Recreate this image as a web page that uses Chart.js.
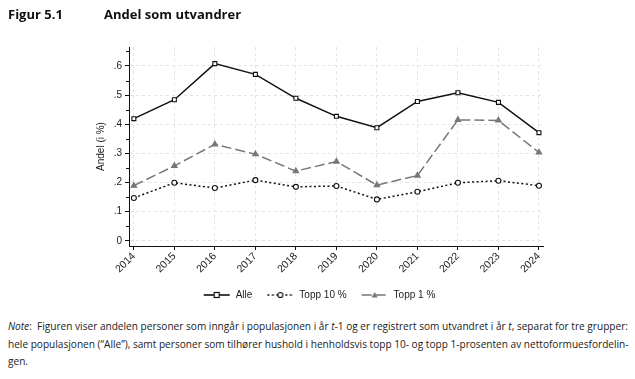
<!DOCTYPE html>
<html><head><meta charset="utf-8">
<script src="https://cdn.jsdelivr.net/npm/chart.js@4"></script>
<style>
html,body{margin:0;padding:0;background:#fff;width:635px;height:379px;overflow:hidden;}
#wrap{position:relative;width:635px;height:379px;}
#c{position:absolute;left:0;top:0;}
.t{position:absolute;top:5px;font-family:"Open Sans",sans-serif;font-weight:bold;font-size:13px;color:#111;}
#note{position:absolute;left:8px;top:318px;width:630px;white-space:nowrap;font-family:"Open Sans",sans-serif;font-size:10.1px;line-height:17.5px;color:#222;}
</style></head><body>
<div id="wrap">
<canvas id="c" width="635" height="310"></canvas>
<div class="t" style="left:8px">Figur 5.1</div>
<div class="t" style="left:104px">Andel som utvandrer</div>
<div id="note"><i>Note</i>:&nbsp; Figuren viser andelen personer som inngår i populasjonen i år <i>t</i>-1 og er registrert som utvandret i år <i>t</i>, separat for tre grupper:<br>hele populasjonen (“Alle”), samt personer som tilhører hushold i henholdsvis topp 10- og topp 1-prosenten av nettoformuesfordelin-<br>gen.</div>
</div>
<script>
const years = [2014,2015,2016,2017,2018,2019,2020,2021,2022,2023,2024];
const alle   = [0.419,0.484,0.608,0.571,0.489,0.427,0.388,0.478,0.508,0.475,0.371];
const topp10 = [0.147,0.199,0.181,0.208,0.185,0.188,0.142,0.168,0.199,0.206,0.189];
const topp1  = [0.189,0.257,0.331,0.297,0.239,0.272,0.191,0.224,0.415,0.413,0.303];
const seriesNames = ['Alle','Topp 10 %','Topp 1 %'];
const yTicks = [0,0.1,0.2,0.3,0.4,0.5,0.6];
const yLabel = 'Andel (i %)';

function legendImg(color, dash, marker){
  const cv=document.createElement('canvas'); cv.width=28; cv.height=10;
  const g=cv.getContext('2d');
  g.strokeStyle=color; g.lineWidth=1.6; g.setLineDash(dash);
  g.beginPath(); g.moveTo(1,5); g.lineTo(27,5); g.stroke(); g.setLineDash([]);
  g.lineWidth=1.2;
  if(marker==='rect'){g.fillStyle='#fff';g.fillRect(11.5,2.5,5,5);g.strokeRect(11.5,2.5,5,5);}
  else if(marker==='circle'){g.fillStyle='#fff';g.beginPath();g.arc(14,5,2.5,0,Math.PI*2);g.fill();g.stroke();}
  else {g.fillStyle=color;g.beginPath();g.moveTo(14,2);g.lineTo(17,7.5);g.lineTo(11,7.5);g.closePath();g.fill();}
  return cv;
}
const styles=[
 {color:'#111',dash:[],marker:'rect',pt:'rect',bg:'#fff',r:2.8},
 {color:'#111',dash:[2,2.5],marker:'circle',pt:'circle',bg:'#fff',r:2.5},
 {color:'#777',dash:[10,4],marker:'triangle',pt:'triangle',bg:'#777',r:3.2}
];
const dataArr=[alle,topp10,topp1];
const datasets=dataArr.map((arr,i)=>({
  label:seriesNames[i],
  data:arr.map((v,j)=>({x:years[j],y:v})),
  borderColor:styles[i].color, borderWidth:1.5, borderDash:styles[i].dash,
  pointStyle:styles[i].pt, pointRadius:styles[i].r, pointBorderWidth:1.1,
  pointBackgroundColor:styles[i].bg, pointBorderColor:styles[i].color,
  tension:0, fill:false
}));
const imgs=styles.map(s=>legendImg(s.color,s.dash,s.marker));

const minorTicks={id:'minorTicks',afterDraw(ch){
  const y=ch.scales.y, ctx=ch.ctx; ctx.save(); ctx.strokeStyle='#111'; ctx.lineWidth=1;
  for(let v=0.05; v<0.66; v+=0.1){const p=Math.round(y.getPixelForValue(v))+0.5;
    ctx.beginPath(); ctx.moveTo(y.right-3,p); ctx.lineTo(y.right,p); ctx.stroke();}
  ctx.restore();
}};

new Chart(document.getElementById('c'),{
  type:'line',
  data:{datasets},
  plugins:[minorTicks],
  options:{
    responsive:false, animation:false,
    layout:{padding:{top:47,right:92,left:95,bottom:0}},
    plugins:{
      tooltip:{enabled:false},
      legend:{position:'bottom',
        labels:{usePointStyle:true,pointStyleWidth:28,color:'#222',font:{family:'Liberation Sans',size:10},padding:14,boxHeight:10,
          generateLabels:(ch)=>ch.data.datasets.map((d,i)=>({text:d.label,pointStyle:imgs[i],fillStyle:'#fff',strokeStyle:'#fff',lineWidth:0,datasetIndex:i,fontColor:'#222'}))}
      }
    },
    scales:{
      x:{type:'linear',min:2013.88,max:2024.1,
        afterBuildTicks:(s)=>{s.ticks=years.map(v=>({value:v}));},
        ticks:{autoSkip:false,minRotation:45,maxRotation:45,color:'#222',font:{family:'Liberation Sans',size:10.5},padding:0,callback:(v)=>String(v)},
        grid:{color:'#e4e4e4',tickColor:'#111',tickLength:4,drawTicks:true,lineWidth:1},
        border:{color:'#111',width:1,dash:[3,3]},
        afterFit:(s)=>{s.height=30;}
      },
      y:{min:-0.018,max:0.665,
        afterBuildTicks:(s)=>{s.ticks=yTicks.map(v=>({value:v}));},
        ticks:{color:'#222',font:{family:'Liberation Sans',size:10},padding:3,
          callback:(v)=>{if(Math.abs(v)<1e-9)return '0';return String(Math.round(v*10)/10).replace(/^0/,'');}},
        grid:{color:'#e4e4e4',tickColor:'#111',tickLength:4,lineWidth:1},
        border:{color:'#111',width:1,dash:[3,3]},
        title:{display:true,text:yLabel,color:'#222',font:{family:'Liberation Sans',size:10},padding:{top:0,bottom:4}},
        afterFit:(s)=>{s.width=34;}
      }
    }
  }
});
</script>
</body></html>
